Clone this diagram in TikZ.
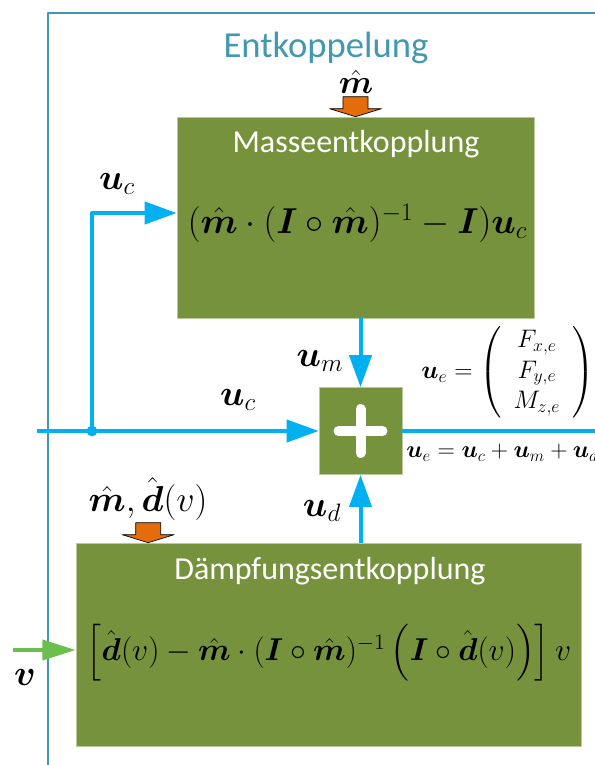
\RequirePackage{fix-cm}
\documentclass[tikz,border=0pt]{standalone}
\usepackage{amsmath,amssymb}
\usepackage{fontspec}
\newfontfamily\carlito{Carlito}
\usetikzlibrary{arrows.meta}
\definecolor{boxgreen}{HTML}{76923C}
\definecolor{flowblue}{HTML}{00B0F0}
\definecolor{paramorange}{HTML}{E46C0A}
\definecolor{inputgreen}{HTML}{6CBF4F}
\definecolor{framecol}{HTML}{4198B0}

\begin{document}
\begin{tikzpicture}[x=0.75pt, y=-0.75pt, line join=round,
  greenbox/.style={fill=boxgreen, draw=boxgreen!50!white, line width=0.5pt, inner sep=0pt},
  boxtitle/.style={text=white, font=\carlito\fontsize{24}{29}\selectfont, anchor=base},
  formula/.style={font=\fontsize{27}{32}\selectfont, inner sep=0pt},
  sig/.style={font=\fontsize{27}{32}\selectfont, inner sep=0pt},
  flow/.style={draw=flowblue, line width=3pt, -{Triangle[length=24pt,width=16.5pt]}},
  param/.style={fill=paramorange, draw=black, line width=0.5pt}]
  \useasboundingbox (0,0) rectangle (595,765);
  \clip (0,0) rectangle (595,765);
  % the frame
  \draw[framecol, line width=2pt] (48,800) -- (48,13) -- (640,13);
  \node[text=framecol, font=\carlito\fontsize{27.5}{33}\selectfont, anchor=base] (title) at (326,57) {Entkoppelung};
  % the blocks
  \node[greenbox, minimum width=267.75pt, minimum height=150.75pt] (upper) at (355.5,217.5) {};
  \node[boxtitle] (uppertitle) at (356,152) {Masseentkopplung};
  \node[formula] (upperf) at (357.5,223) {$(\hat{\boldsymbol m}\cdot(\boldsymbol I\circ\hat{\boldsymbol m})^{-1}-\boldsymbol I)\boldsymbol u_c$};
  \node[greenbox, minimum width=378.75pt, minimum height=152.25pt] (lower) at (328.5,644.5) {};
  \node[boxtitle] (lowertitle) at (330,579) {Dämpfungsentkopplung};
  \node[formula, font=\fontsize{23.7}{28}\selectfont] (lowerf) at (329,653) {$\left[\hat{\boldsymbol d}(v)-\hat{\boldsymbol m}\cdot(\boldsymbol I\circ\hat{\boldsymbol m})^{-1}\left(\boldsymbol I\circ\hat{\boldsymbol d}(v)\right)\right]v$};
  \node[greenbox, minimum width=62.25pt, minimum height=65.25pt] (sum) at (360.5,431) {};
  \draw[white, line width=7.5pt, line cap=round] ([xshift=-16.5pt]sum.center) -- ([xshift=16.5pt]sum.center);
  \draw[white, line width=7.5pt, line cap=round] ([yshift=-16.5pt]sum.center) -- ([yshift=16.5pt]sum.center);
  % parameter inputs
  \draw[param] (upper.north) -- ++(-26,-8) -- ++(13.5,0) -- ++(0,-12) -- ++(25,0) -- ++(0,12) -- ++(13.5,0) -- cycle;
  \node[sig, font=\fontsize{25}{30}\selectfont] (mhat) at (356,82) {$\hat{\boldsymbol m}$};
  \draw[param] (lower.north west) ++(72.5,0) -- ++(-26,-8) -- ++(13.5,0) -- ++(0,-12) -- ++(25,0) -- ++(0,12) -- ++(13.5,0) -- cycle;
  \node[sig] (mdhat) at (148,499) {$\hat{\boldsymbol m},\hat{\boldsymbol d}(v)$};
  % signals
  \coordinate (in) at (37,431);
  \coordinate (split) at (92,431);
  \coordinate (branch) at (92,213);
  \coordinate (out) at (640,431);
  \coordinate (vin) at (13,650);
  \draw[flow] (in) -- (sum.west);
  \draw[flow] (split) -- (branch) -- (branch -| upper.west);
  \fill[flowblue] (split) circle (4pt);
  \draw[flow] (sum.north |- upper.south) -- (sum.north);
  \draw[flow] (sum.south |- lower.north) -- (sum.south);
  \draw[flowblue, line width=3pt] (sum.east) -- (out);
  \draw[inputgreen, line width=3pt, -{Triangle[length=25pt,width=15pt]}] (vin) -- (vin -| lower.west);
  \node[sig] (ucupper) at (117,184) {$\boldsymbol u_c$};
  \node[sig] (ucmain) at (238,400) {$\boldsymbol u_c$};
  \node[sig] (um) at (320,361) {$\boldsymbol u_m$};
  \node[sig] (ud) at (322,511) {$\boldsymbol u_d$};
  \node[sig] (v) at (25,677) {$\boldsymbol v$};
  \node[font=\fontsize{19}{23}\selectfont, inner sep=0pt, anchor=west] (ue) at (421,372) {$\boldsymbol u_e=\left(\setlength\arraycolsep{9pt}\begin{array}{c} F_{x,e}\\ F_{y,e}\\ M_{z,e}\end{array}\right)$};
  \node[font=\fontsize{18}{22}\selectfont, inner sep=0pt, anchor=west] (uesum) at (406,453) {$\boldsymbol u_e=\boldsymbol u_c+\boldsymbol u_m+\boldsymbol u_d$};
\end{tikzpicture}
\end{document}
